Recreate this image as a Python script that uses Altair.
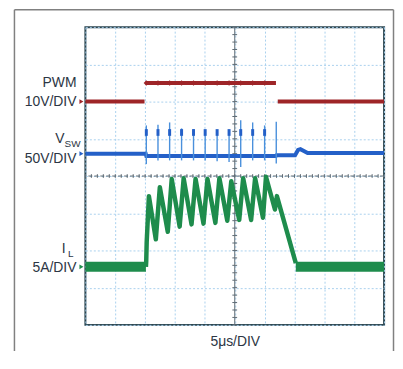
import altair as alt
import pandas as pd
import numpy as np

# ---------------- data ----------------
# time base: 5 us/DIV, 10 divisions; 8 vertical divisions
grid_t = [0, 5, 10, 15, 20, 25, 30, 35, 40, 45, 50]
grid_div = [-4, -3, -2, -1, 0, 1, 2, 3, 4]

# channel zero position (divisions from centre) and units per division
PWM_ZERO, PWM_PER_DIV = 2.0, 10.0    # 10V/DIV
VSW_ZERO, VSW_PER_DIV = 0.6, 50.0    # 50V/DIV
IL_ZERO, IL_PER_DIV = -2.44, 5.0     # 5A/DIV

# PWM (V)
pwm_t = [0.0, 9.9, 10.1, 31.9, 32.2, 50.0]
pwm_v = [0, 0, 5, 5, 0, 0]
pwm_seg = ["lo1", "lo1", "hi", "hi", "lo2", "lo2"]

# switching instants (us)
sw_t = [10.2, 12.15, 14.1, 16.1, 18.1, 20.05, 22.05, 24.05, 26.0, 28.0, 30.0, 31.95]

# VSW baseline (V)
vsw_t = [0.0, 10.1, 10.2, 31.9, 32.0, 35.1, 35.6, 36.0, 37.2, 50.0]
vsw_v = [0, 0, -3, -3, -2, -2, 5, 6, 1, 1]
# VSW spikes (V)
vsw_top = [38, 39, 42, 34, 33, 31, 31, 31, 45, 42, 38, 43]
vsw_bot = [-14, -9, -9, -9, -9, -9, -10, -11, -18, -9, -9, -13]
vsw_blob_lo = [24, 24, 24, 24, 24, 24, 24, 24, 24, 24, 24]
vsw_blob_hi = [33, 33, 33, 33, 33, 33, 33, 33, 33, 33, 33]

# IL (A)
il_base_t = [0.0, 10.13, 35.22, 50.0]
il_base_a = [0, 0, 0, 0]
il_base_seg = ["pre", "pre", "post", "post"]
il_t = [10.13, 10.18, 10.26, 10.63, 11.79, 12.46, 13.79, 14.45, 15.78, 16.45,
        17.77, 18.44, 19.77, 20.43, 21.76, 22.43, 23.75, 24.42, 25.75, 26.41,
        27.74, 28.41, 29.73, 30.23, 31.73, 32.06, 35.22]
il_a = [0, 0.7, 3.3, 9.5, 3.7, 10.7, 4.7, 11.8, 5.4, 11.9,
        5.7, 11.8, 5.8, 11.8, 5.9, 11.9, 6.2, 11.5, 6.3, 11.9,
        6.3, 11.9, 6.6, 12.1, 7.7, 9.5, 0.5]

# ---------------- style ----------------
RED = "#9e2528"
BLUE = "#2460c8"
BLUE_LIGHT = "#4a90dc"
GREEN = "#1e8c4c"
TEXT = "#2c3644"
GRID = "#a9d1ee"
FRAME = "#2c4650"
CROSS = "#5f6b74"
FONT = "Liberation Sans, Arial, sans-serif"

xs = alt.Scale(domain=[0, 50], nice=False, zero=False)
ys = alt.Scale(domain=[-4, 4], nice=False, zero=False)
xaxis = alt.Axis(values=grid_t, grid=True, gridColor=GRID, gridDash=[2, 2], gridWidth=1,
                 labels=False, ticks=False, domain=False, title=None)
yaxis = alt.Axis(values=grid_div, grid=True, gridColor=GRID, gridDash=[2, 2], gridWidth=1,
                 labels=False, ticks=False, domain=False, title=None)


def X(f):
    return alt.X(f, type="quantitative", scale=xs, axis=xaxis)


def Y(f):
    return alt.Y(f, type="quantitative", scale=ys, axis=yaxis)


# ---------------- frames ----------------
pwm_df = pd.DataFrame({"t": pwm_t, "seg": pwm_seg,
                       "y": [PWM_ZERO + v / PWM_PER_DIV for v in pwm_v]})
pwm_dot_df = pd.DataFrame({"t": sw_t[:-1], "y": [PWM_ZERO + 5 / PWM_PER_DIV] * 11})
vsw_df = pd.DataFrame({"t": vsw_t, "y": [VSW_ZERO + v / VSW_PER_DIV for v in vsw_v]})
spk_df = pd.DataFrame({"t": sw_t,
                       "y1": [VSW_ZERO + v / VSW_PER_DIV for v in vsw_top],
                       "y2": [VSW_ZERO + v / VSW_PER_DIV for v in vsw_bot]})
blob_df = pd.DataFrame({"t": sw_t[:-1],
                        "y1": [VSW_ZERO + v / VSW_PER_DIV for v in vsw_blob_lo],
                        "y2": [VSW_ZERO + v / VSW_PER_DIV for v in vsw_blob_hi]})
ilb_df = pd.DataFrame({"t": il_base_t, "seg": il_base_seg,
                       "y": [IL_ZERO + a / IL_PER_DIV for a in il_base_a]})
il_df = pd.DataFrame({"t": il_t, "y": [IL_ZERO + a / IL_PER_DIV for a in il_a]})
mark_df = pd.DataFrame({"y": [PWM_ZERO, VSW_ZERO, IL_ZERO], "c": [RED, BLUE, GREEN]})

vt = np.round(np.arange(-4, 4.001, 0.2), 2)
vtick_df = pd.DataFrame({"x1": [24.6] * len(vt), "x2": [25.4] * len(vt), "y": vt})
ht = np.arange(0, 50.001, 1.0)
htick_df = pd.DataFrame({"t": ht, "y1": [-0.05] * len(ht), "y2": [0.05] * len(ht)})

layers = []
# crosshair
layers.append(alt.Chart(pd.DataFrame({"t": [25]})).mark_rule(color=CROSS, strokeWidth=1).encode(x=X("t")))
layers.append(alt.Chart(pd.DataFrame({"y": [0]})).mark_rule(color=CROSS, strokeWidth=1, strokeDash=[4, 2]).encode(y=Y("y")))
layers.append(alt.Chart(vtick_df).mark_rule(color=CROSS, strokeWidth=1).encode(x=X("x1"), x2="x2:Q", y=Y("y")))
layers.append(alt.Chart(htick_df).mark_rule(color=CROSS, strokeWidth=1).encode(x=X("t"), y=Y("y1"), y2="y2:Q"))

# PWM
layers.append(alt.Chart(pwm_df).mark_line(color=RED, strokeWidth=4, strokeCap="butt").encode(
    x=X("t"), y=Y("y"), detail="seg:N"))
layers.append(alt.Chart(pwm_dot_df).mark_point(shape="diamond", filled=True, size=30, color=RED, opacity=1).encode(
    x=X("t"), y=Y("y")))

# VSW
layers.append(alt.Chart(vsw_df).mark_line(color=BLUE, strokeWidth=4, strokeCap="butt").encode(x=X("t"), y=Y("y")))
layers.append(alt.Chart(spk_df).mark_rule(color=BLUE_LIGHT, strokeWidth=1.4).encode(x=X("t"), y=Y("y1"), y2="y2:Q"))
layers.append(alt.Chart(blob_df).mark_rule(color=BLUE, strokeWidth=3).encode(x=X("t"), y=Y("y1"), y2="y2:Q"))

# IL
layers.append(alt.Chart(ilb_df).mark_line(color=GREEN, strokeWidth=10, strokeCap="butt").encode(
    x=X("t"), y=Y("y"), detail="seg:N"))
layers.append(alt.Chart(il_df).mark_line(color=GREEN, strokeWidth=4.5, strokeJoin="round").encode(x=X("t"), y=Y("y")))

# ground markers
layers.append(alt.Chart(mark_df).mark_point(shape="triangle-right", filled=True, size=22, opacity=1).encode(
    x=alt.value(-4), y=Y("y"), color=alt.Color("c:N", scale=None)))


def label(txt, x, y, size=14, align="right"):
    return alt.Chart(pd.DataFrame({"s": [txt]})).mark_text(
        font=FONT, fontSize=size, color=TEXT, align=align, baseline="middle").encode(
        text="s:N", x=alt.value(x), y=alt.value(y))


layers += [
    label("PWM", -9, 56),
    label("10V/DIV", -9, 75.5),
    label("V", -21, 113),
    label("SW", -21, 117.5, size=10, align="left"),
    label("50V/DIV", -9, 133),
    label("I", -20, 224),
    label("L", -17.5, 228.5, size=10, align="left"),
    label("5A/DIV", -9, 243),
    label("5\u03bcs/DIV", 151, 317.5, align="center"),
]

# outer frame (left, top, right)
fr = pd.DataFrame({"k": [0]})
layers.append(alt.Chart(fr).mark_rule(color="#808080", strokeWidth=1.5).encode(
    x=alt.value(-71.5), y=alt.value(-17.5), y2=alt.value(330)))
layers.append(alt.Chart(fr).mark_rule(color="#808080", strokeWidth=1.5).encode(
    x=alt.value(310.5), y=alt.value(-17.5), y2=alt.value(330)))
layers.append(alt.Chart(fr).mark_rule(color="#808080", strokeWidth=1.5).encode(
    x=alt.value(-71.5), x2=alt.value(310.5), y=alt.value(-17.5)))

chart = alt.layer(*layers).properties(
    width=301, height=300,
    padding={"left": 78, "top": 18, "right": 11, "bottom": 25},
    autosize=alt.AutoSizeParams(type="none"),
    background="white",
).configure_view(stroke=FRAME, strokeWidth=2)

chart.save("out.html", embed_options={"renderer": "svg", "actions": False})
